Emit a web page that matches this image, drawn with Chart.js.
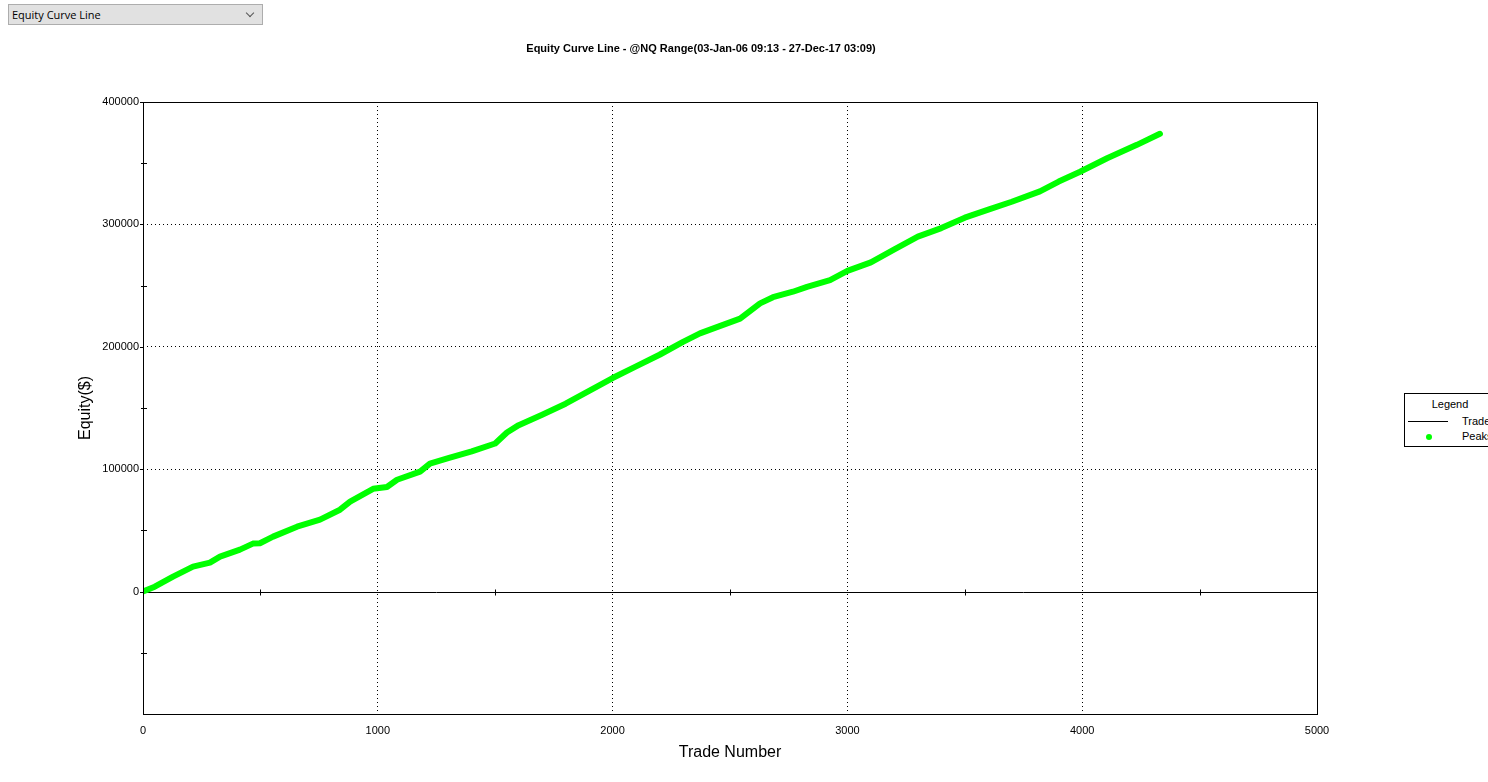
<!DOCTYPE html>
<html>
<head>
<meta charset="utf-8">
<script src="https://cdn.jsdelivr.net/npm/chart.js@4/dist/chart.umd.min.js"></script>
<style>
  html, body { margin:0; padding:0; background:#fff; width:1488px; height:782px; overflow:hidden; font-family:"Liberation Sans", Arial, sans-serif; }
  #wrap { position:absolute; left:0; top:0; width:1488px; height:782px; }
  #dd { position:absolute; left:8px; top:4px; width:250px; height:19px; background:#e1e1e1; border:1px solid #adadad; font-family:"Open Sans","Noto Sans",sans-serif; font-size:11px; line-height:19px; color:#000; padding-left:3px; box-sizing:content-box; }
  #dd .chev { position:absolute; right:9px; top:5px; width:5px; height:5px; border-right:1px solid #555; border-bottom:1px solid #555; transform:rotate(45deg); }
  #legend { position:absolute; left:1404px; top:393px; width:100px; height:52px; border:1px solid #000; background:#fff; font-size:11px; color:#000; }
  #legend .hd { position:absolute; left:0; width:90px; top:4px; text-align:center; }
  #legend .ln { position:absolute; left:3px; top:27px; width:40px; height:1px; background:#000; }
  #legend .dot { position:absolute; left:21px; top:40px; width:6px; height:6px; border-radius:50%; background:#00ff00; }
  #legend .t1 { position:absolute; left:57px; top:21px; }
  #legend .t2 { position:absolute; left:57px; top:36px; }
</style>
</head>
<body>
<div id="wrap">
  <canvas id="c" width="1488" height="782"></canvas>
</div>
<div id="dd">Equity Curve Line<span class="chev"></span></div>
<div id="legend">
  <div class="hd">Legend</div>
  <div class="ln"></div><div class="t1">Trade</div>
  <div class="dot"></div><div class="t2">Peaks</div>
</div>
<script>
// ---- data ----
const chartTitle = "Equity Curve Line - @NQ Range(03-Jan-06 09:13 - 27-Dec-17 03:09)";
const tradeNumbers = [0,50,128,213,285,328,413,468,498,554,656,754,839,882,980,1039,1082,1180,1222,1300,1400,1500,1550,1600,1700,1800,1900,2000,2100,2200,2300,2372,2450,2543,2628,2683,2768,2828,2926,3000,3100,3200,3300,3400,3500,3600,3700,3820,3900,3991,4106,4233,4331];
const equity = [0,4000,12200,20400,23700,28600,34300,39200,39500,44900,53000,58800,66900,73500,84000,85500,91400,98000,104500,109000,114500,121000,130000,136000,144500,153500,164000,174500,184000,193500,204000,211000,216500,223000,235500,240500,245000,249000,254500,262000,269000,279500,290000,297000,305500,312000,318500,327000,335000,343000,354000,365000,374000];
const xTicks = [0,1000,2000,3000,4000,5000];
const yTicks = [0,100000,200000,300000,400000];
const xMinorTicks = [500,1500,2500,3500,4500];
const yMinorTicks = [-50000,50000,150000,250000,350000];

const pts = tradeNumbers.map((t,i)=>({x:t, y:equity[i]}));

const FONT = '"Liberation Sans", Arial, sans-serif';

const deco = {
  id:'deco',
  beforeDatasetsDraw(chart){
    const {ctx, chartArea:a, scales:{x,y}} = chart;
    ctx.save();
    ctx.strokeStyle='#000'; ctx.lineWidth=1;
    const y0 = Math.round(y.getPixelForValue(0))+0.5;
    ctx.beginPath(); ctx.moveTo(a.left,y0); ctx.lineTo(a.right,y0); ctx.stroke();
    xMinorTicks.forEach(v=>{
      const px = Math.round(x.getPixelForValue(v))+0.5;
      ctx.beginPath(); ctx.moveTo(px,y0-3); ctx.lineTo(px,y0+3); ctx.stroke();
    });
    yMinorTicks.forEach(v=>{
      const py = Math.round(y.getPixelForValue(v))+0.5;
      ctx.beginPath(); ctx.moveTo(a.left-2,py); ctx.lineTo(a.left+4,py); ctx.stroke();
    });
    yTicks.forEach(v=>{
      const py = Math.round(y.getPixelForValue(v))+0.5;
      ctx.beginPath(); ctx.moveTo(a.left-3,py); ctx.lineTo(a.left,py); ctx.stroke();
    });
    ctx.restore();
  },
  afterDraw(chart){
    const {ctx, chartArea:a} = chart;
    ctx.save();
    ctx.strokeStyle='#000'; ctx.lineWidth=1;
    ctx.strokeRect(Math.round(a.left)+0.5, Math.round(a.top)+0.5, Math.round(a.right-a.left), Math.round(a.bottom-a.top));
    ctx.fillStyle='#000';
    ctx.font = 'bold 11px '+FONT;
    ctx.textAlign='center'; ctx.textBaseline='middle';
    ctx.fillText(chartTitle, 701, 49);
    ctx.font = '16px '+FONT;
    ctx.fillText('Trade Number', (a.left+a.right)/2, 753);
    ctx.translate(86, (a.top+a.bottom)/2);
    ctx.rotate(-Math.PI/2);
    ctx.fillText('Equity($)', 0, 0);
    ctx.restore();
  }
};

new Chart(document.getElementById('c'), {
  type:'scatter',
  data:{
    datasets:[
      { label:'Peaks', data:pts, showLine:true, borderColor:'#00ff00', backgroundColor:'#00ff00', borderWidth:6, pointRadius:0, tension:0, borderCapStyle:'round', borderJoinStyle:'round' },
      { label:'Trade', data:pts, showLine:true, borderColor:'#000', borderWidth:1, pointRadius:0, tension:0 }
    ]
  },
  options:{
    responsive:false, animation:false, devicePixelRatio:1,
    layout:{ padding:{ left:93, top:102, right:171, bottom:38 } },
    plugins:{ legend:{display:false}, title:{display:false}, tooltip:{enabled:false} },
    scales:{
      x:{
        type:'linear', min:0, max:5000,
        afterBuildTicks(s){ s.ticks = xTicks.map(v=>({value:v})); },
        afterFit(s){ s.height = 30; },
        ticks:{ color:'#000', font:{family:FONT, size:11}, padding:10, maxRotation:0, callback:(v)=>String(v) },
        grid:{ drawTicks:false, color:(c)=> (c.tick && c.tick.value>0 && c.tick.value<5000) ? '#000' : 'rgba(0,0,0,0)', lineWidth:1 },
        border:{ display:false, dash:[1,3] }
      },
      y:{
        type:'linear', min:-100000, max:400000,
        afterBuildTicks(s){ s.ticks = yTicks.map(v=>({value:v})); },
        afterFit(s){ s.width = 50; },
        ticks:{ color:'#000', font:{family:FONT, size:11}, padding:4, callback:(v)=>String(v) },
        grid:{ drawTicks:false, color:(c)=> (c.tick && c.tick.value>0 && c.tick.value<400000) ? '#000' : 'rgba(0,0,0,0)', lineWidth:1 },
        border:{ display:false, dash:[1,3] }
      }
    }
  },
  plugins:[deco]
});
</script>
</body>
</html>
